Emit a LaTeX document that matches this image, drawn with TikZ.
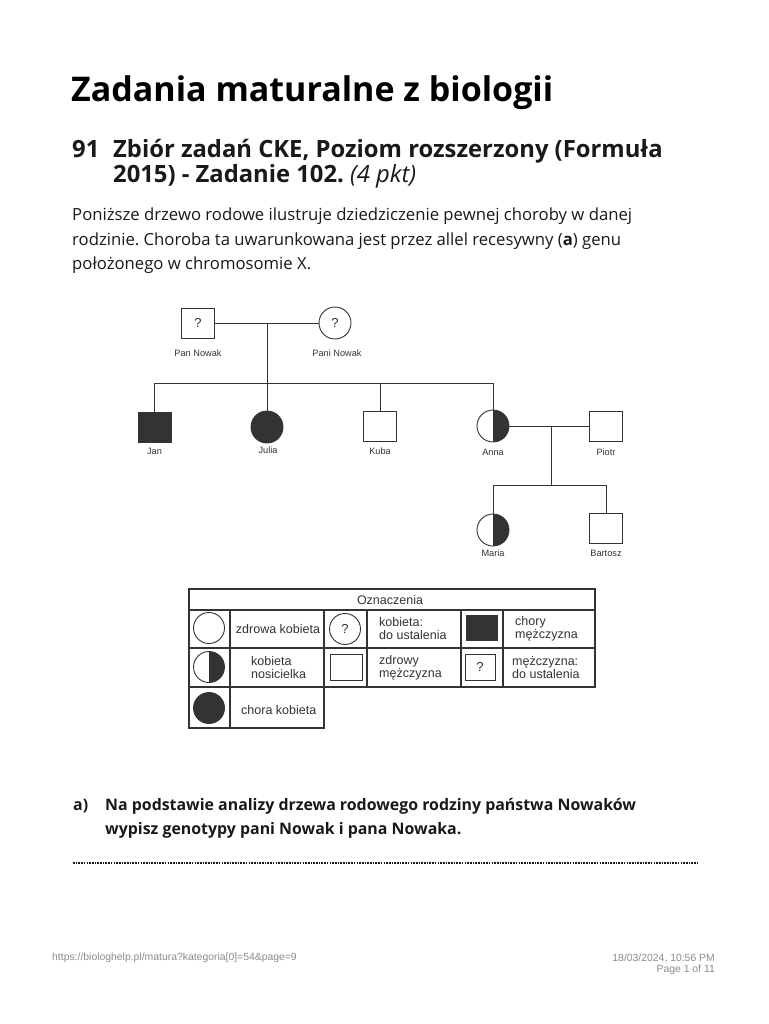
\documentclass[tikz,border=0pt]{standalone}
\usepackage{fontspec}
\setmainfont{Open Sans}
\newfontfamily\pedfont{Liberation Sans}
\usetikzlibrary{positioning}
\frenchspacing
\definecolor{ink}{gray}{0.1}
\definecolor{pedink}{gray}{0.2}
\definecolor{footgray}{gray}{0.55}
\newcommand*{\pedsize}{\pedfont\fontsize{9.2}{10}\selectfont}
\newcommand*{\legsize}{\pedfont\fontsize{12.5}{13}\selectfont}

\tikzset{
  male/.style={draw=pedink, rectangle, minimum width=33pt, minimum height=30pt, inner sep=0pt, line width=0.9pt, font=\pedfont\fontsize{13}{13}\selectfont, text=pedink},
  female/.style={draw=pedink, circle, minimum size=32pt, inner sep=0pt, line width=0.9pt, font=\pedfont\fontsize{13}{13}\selectfont, text=pedink},
  sick/.style={fill=pedink},
  carrier/.style={path picture={\fill[pedink] (path picture bounding box.north) rectangle (path picture bounding box.south east);}},
  pname/.style={font=\pedsize, text=pedink, inner sep=0pt},
  legtext/.style={font=\legsize, align=left, inner sep=0pt, text=pedink},
  rel/.style={line width=0.9pt, draw=pedink},
  frame/.style={line width=1.2pt, draw=pedink},
  txt/.style={anchor=base west, inner sep=0pt, text=ink}
}

\begin{document}
\begin{tikzpicture}[x=1pt, y=-1pt]
\useasboundingbox (0,0) rectangle (768,1024);
\fill[white] (0,0) rectangle (768,1024);

%Heading
\node[txt, font=\bfseries\fontsize{34}{40}\selectfont, text=black] (title) at (71,102) {Zadania maturalne z biologii};
\node[txt, font=\bfseries\fontsize{23.8}{28}\selectfont] (num) at (72,158) {91};
\node[txt, font=\bfseries\fontsize{23.8}{28}\selectfont] (head1) at (113,158) {Zbiór zadań CKE, Poziom rozszerzony (Formuła};
\node[txt, font=\bfseries\fontsize{23.8}{28}\selectfont] (head2) at (113,183) {2015) - Zadanie 102. {\mdseries\itshape (4 pkt)}};

%Intro
\node[txt, font=\fontsize{16.7}{24}\selectfont] (intro1) at (72,221) {Poniższe drzewo rodowe ilustruje dziedziczenie pewnej choroby w danej};
\node[txt, font=\fontsize{16.7}{24}\selectfont] (intro2) at (72,245) {rodzinie. Choroba ta uwarunkowana jest przez allel recesywny (\textbf{a}) genu};
\node[txt, font=\fontsize{16.7}{24}\selectfont] (intro3) at (72,269) {położonego w chromosomie X.};

%Parents
\node[male] (pan) at (198,323) {?};
\node[female] (pani) at (335,323) {?};
\node[pname] (panlbl) at (198,353) {Pan Nowak};
\node[pname] (panilbl) at (337,353) {Pani Nowak};
\coordinate (m1) at (267,323);
\coordinate (sib) at (267,383);
\draw[rel] (pan.east) -- (pani.west);
\draw[rel] (m1) -- (sib);

%Children
\node[male, sick] (jan) at (154.5,427) {};
\node[female, sick] (julia) at (267,427) {};
\node[male] (kuba) at (380,426) {};
\node[female, carrier] (anna) at (493,426) {};
\node[male] (piotr) at (606,426) {};
\node[pname] (janlbl) at (154.5,451) {Jan};
\node[pname] (julialbl) at (268,450) {Julia};
\node[pname] (kubalbl) at (380,451) {Kuba};
\node[pname] (annalbl) at (493,452) {Anna};
\node[pname] (piotrlbl) at (606,452) {Piotr};
\draw[rel] (jan |- sib) -- (anna |- sib);
\draw[rel] (jan |- sib) -- (jan.north);
\draw[rel] (sib) -- (julia.north);
\draw[rel] (kuba |- sib) -- (kuba.north);
\draw[rel] (anna |- sib) -- (anna.north);

%Anna and Piotr
\coordinate (m2) at (551,426);
\coordinate (kids) at (551,485);
\draw[rel] (anna.east) -- (piotr.west);
\draw[rel] (m2) -- (kids);
\node[female, carrier] (maria) at (493,530) {};
\node[male] (bartosz) at (606,528) {};
\node[pname] (marialbl) at (493,553) {Maria};
\node[pname] (bartoszlbl) at (606,553) {Bartosz};
\draw[rel] (maria |- kids) -- (bartosz |- kids);
\draw[rel] (maria |- kids) -- (maria.north);
\draw[rel] (bartosz |- kids) -- (bartosz.north);

%Legend
\draw[frame] (189,589) rectangle (595,687);
\draw[frame] (189,687) rectangle (324,728);
\draw[frame] (189,610) -- (595,610);
\draw[frame] (189,648) -- (595,648);
\draw[frame] (230,610) -- (230,728);
\foreach \cx in {324,367,461,503}
  \draw[frame] (\cx,610) -- (\cx,687);
\node[legtext] (legtitle) at (390,600) {Oznaczenia};

\node[female, minimum size=31pt] (lgwoman) at (209,628) {};
\node[legtext] (lgwomantxt) at (278,629) {zdrowa kobieta};
\node[female, minimum size=31pt] (lgask) at (345,629) {?};
\node[legtext, anchor=west] (lgasktxt) at (379,629) {kobieta:\\do ustalenia};
\node[male, sick, minimum width=31pt, minimum height=25pt] (lgsickman) at (481.5,627.5) {};
\node[legtext, anchor=west] (lgsickmantxt) at (515,629) {chory\\mężczyzna};

\node[female, carrier, minimum size=31pt] (lgcarrier) at (209,667) {};
\node[legtext, anchor=west] (lgcarriertxt) at (251,668) {kobieta\\nosicielka};
\node[male, minimum width=32pt, minimum height=26pt] (lgman) at (346,667) {};
\node[legtext, anchor=west] (lgmantxt) at (379,668) {zdrowy\\mężczyzna};
\node[male, minimum width=30pt, minimum height=26pt] (lgaskman) at (480,667) {?};
\node[legtext, anchor=west] (lgaskmantxt) at (512,668) {mężczyzna:\\do ustalenia};

\node[female, sick, minimum size=31pt] (lgsickwoman) at (209,708) {};
\node[legtext, anchor=west] (lgsickwomantxt) at (241,710) {chora kobieta};

%Question
\node[txt, font=\bfseries\fontsize{15.9}{24}\selectfont] (qa) at (73,810) {a)};
\node[txt, font=\bfseries\fontsize{15.9}{24}\selectfont] (q1) at (105,810) {Na podstawie analizy drzewa rodowego rodziny państwa Nowaków};
\node[txt, font=\bfseries\fontsize{15.9}{24}\selectfont] (q2) at (105,834) {wypisz genotypy pani Nowak i pana Nowaka.};
\coordinate (dotsl) at (73,863);
\coordinate (dotsr) at (697,863);
\draw[ink, line width=2.2pt, dash pattern=on 1.6pt off 1.1pt] (dotsl) -- (dotsr);

%Footer
\node[anchor=west, inner sep=0pt, text=footgray, font=\pedfont\fontsize{10.4}{12}\selectfont] (url) at (52,958) {https://biologhelp.pl/matura?kategoria[0]=54\&page=9};
\node[anchor=east, inner sep=0pt, text=footgray, font=\pedfont\fontsize{10.4}{12}\selectfont] (date) at (715,958) {18/03/2024, 10:56 PM};
\node[anchor=east, inner sep=0pt, text=footgray, font=\pedfont\fontsize{10.4}{12}\selectfont] (page) at (715,970) {Page 1 of 11};
\end{tikzpicture}
\end{document}
